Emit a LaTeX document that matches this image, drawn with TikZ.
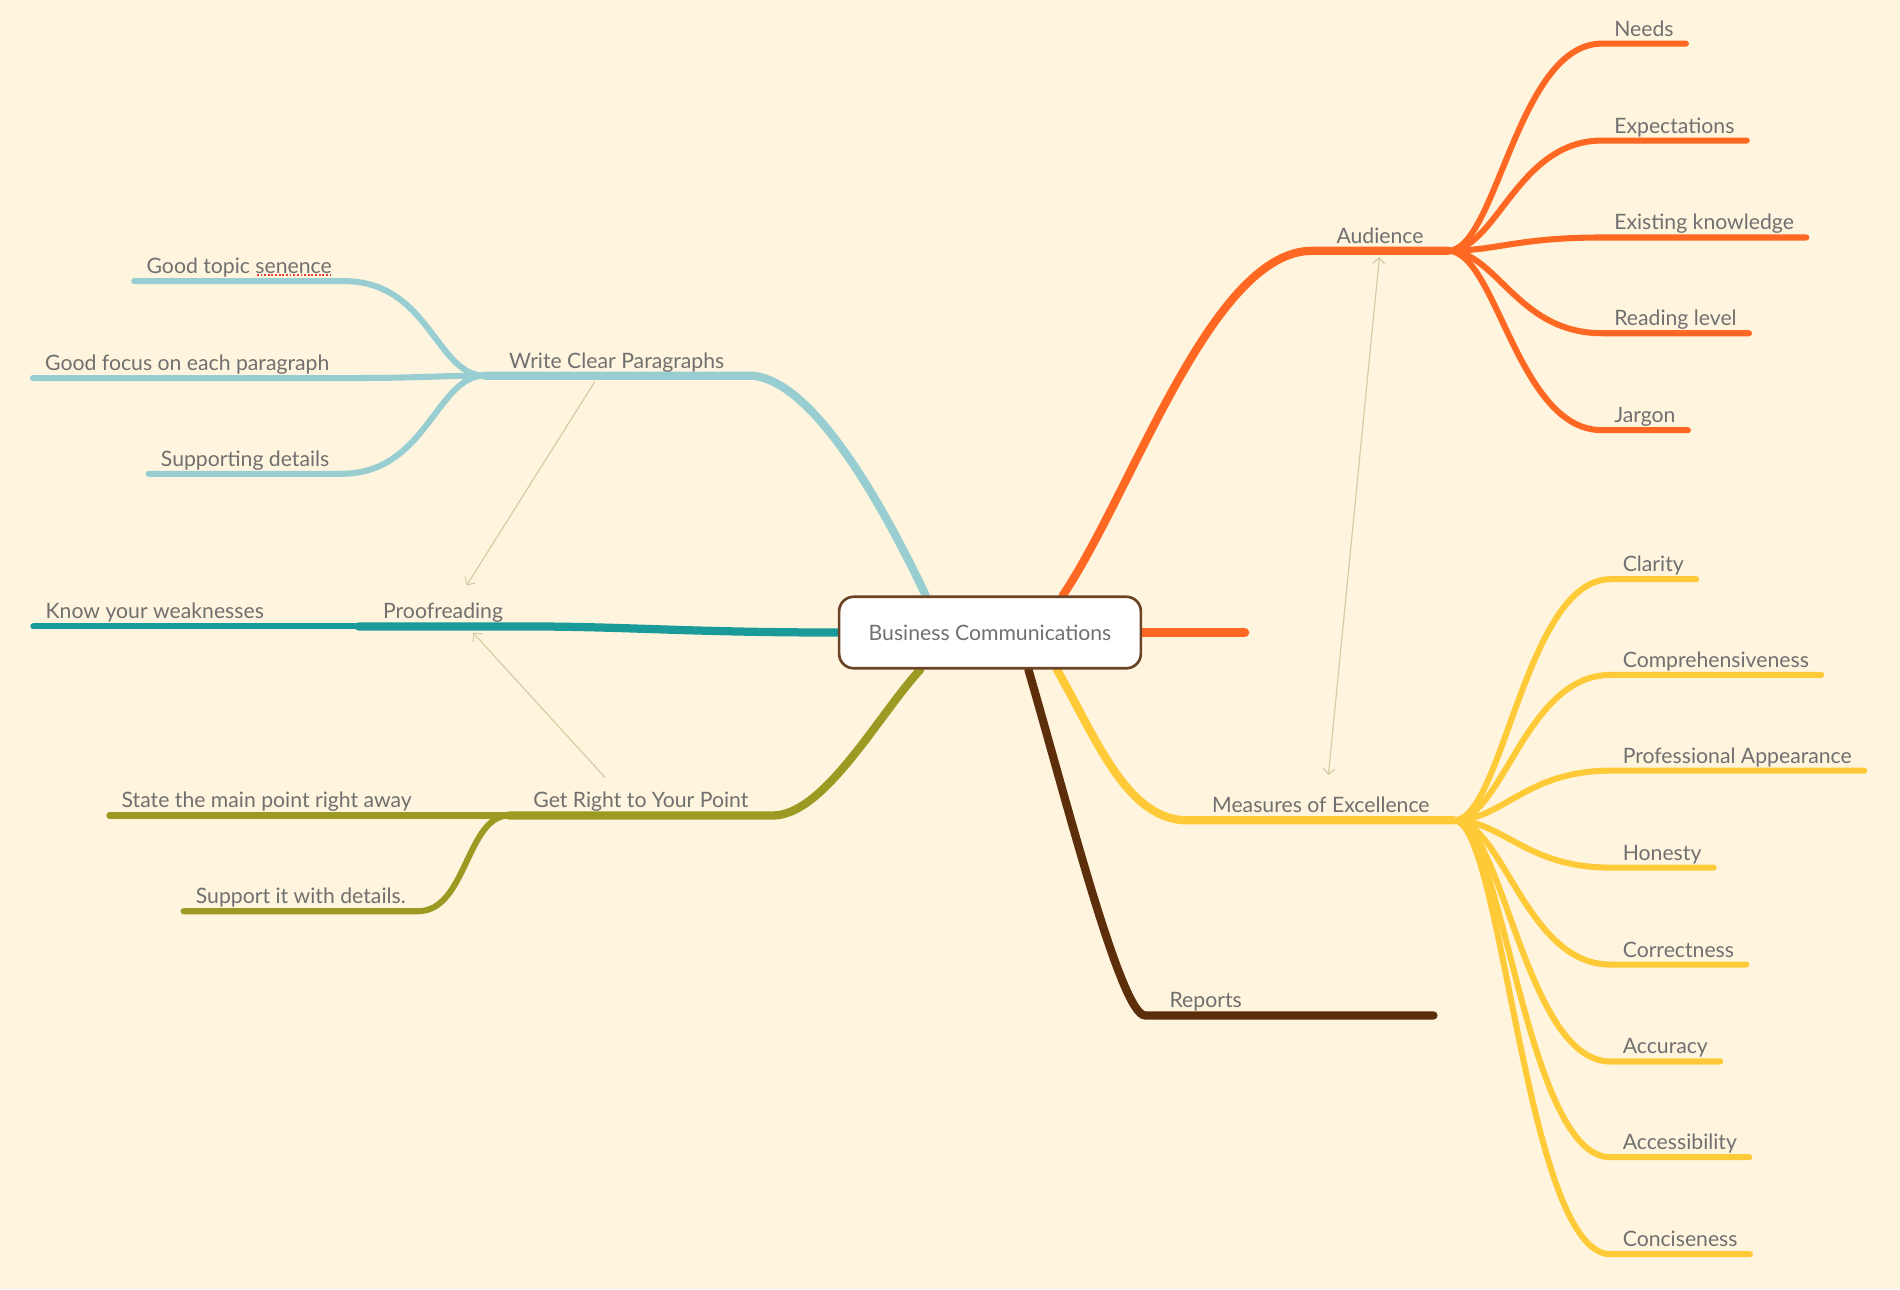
\documentclass[tikz,border=0pt]{standalone}
\usepackage{fontspec}
\setmainfont{Lato}
\usetikzlibrary{backgrounds,arrows.meta}
\definecolor{paper}{RGB}{255,245,222}
\definecolor{inkgray}{RGB}{112,112,112}
\definecolor{boxbrown}{RGB}{107,68,38}
\definecolor{orangeb}{RGB}{255,104,34}
\definecolor{yellowb}{RGB}{255,202,56}
\definecolor{brownb}{RGB}{92,46,10}
\definecolor{tealb}{RGB}{26,154,152}
\definecolor{blueb}{RGB}{152,205,209}
\definecolor{oliveb}{RGB}{156,154,34}
\definecolor{linkcol}{RGB}{214,205,165}
\definecolor{spellred}{RGB}{230,60,60}
\tikzset{>={Straight Barb[length=5pt,width=10pt]}}
\tikzset{
  mainlabel/.style = {inner xsep=20pt, inner ysep=6pt, text depth=0pt,
    text=inkgray, font=\fontsize{17.5}{21}\selectfont},
  leaflabel/.style = {mainlabel, inner xsep=10pt},
  centre/.style = {draw=boxbrown, line width=2.2pt, fill=white,
    rounded corners=12pt, minimum width=249pt, minimum height=59pt,
    text=inkgray, font=\fontsize{17.5}{21}\selectfont},
  branch/.style = {line width=6.8pt, line cap=round},
  twig/.style = {line width=5pt, line cap=round},
  link/.style = {draw=linkcol, line width=1pt}
}

\begin{document}
\begin{tikzpicture}[x=1pt,y=-1pt]
  \useasboundingbox (0,0) rectangle (1568,1064);
  \node[centre] (bc) at (817,522) {Business Communications};
  % audience
  \node[mainlabel,anchor=south east] (aud) at (1195,207) {Audience};
  \node[leaflabel,anchor=south west] (needs) at (1322,36) {Needs};
  \node[leaflabel,anchor=south west] (expect) at (1322,116) {Expectations};
  \node[leaflabel,anchor=south west] (known) at (1322,196) {Existing knowledge};
  \node[leaflabel,anchor=south west] (level) at (1322,275) {Reading level};
  \node[leaflabel,anchor=south west] (jargon) at (1322,355) {Jargon};
  \coordinate (stub) at (1027,522);
  % measures of excellence
  \node[mainlabel,anchor=south east] (excel) at (1200,677) {Measures of Excellence};
  \node[leaflabel,anchor=south west] (clarity) at (1329,478) {Clarity};
  \node[leaflabel,anchor=south west] (compre) at (1329,557) {Comprehensiveness};
  \node[leaflabel,anchor=south west] (appear) at (1329,636) {Professional Appearance};
  \node[leaflabel,anchor=south west] (honest) at (1329,716) {Honesty};
  \node[leaflabel,anchor=south west] (correct) at (1329,796) {Correctness};
  \node[leaflabel,anchor=south west] (accur) at (1329,876) {Accuracy};
  \node[leaflabel,anchor=south west] (access) at (1329,955) {Accessibility};
  \node[leaflabel,anchor=south west] (concise) at (1329,1035) {Conciseness};
  % reports
  \node[mainlabel,anchor=south west] (reports) at (945,838) {Reports};
  \coordinate (reportsend) at (1183,838);
  % write clear paragraphs
  \node[mainlabel,anchor=south west] (paras) at (400,310) {Write Clear Paragraphs};
  \node[leaflabel,anchor=south east] (topicsent) at (284,232) {Good topic senence};
  \node[leaflabel,anchor=south east] (focus) at (282,312) {Good focus on each paragraph};
  \node[leaflabel,anchor=south east] (support) at (282,391) {Supporting details};
  % proofreading
  \node[mainlabel,anchor=south west] (proof) at (296,517) {Proofreading};
  \node[leaflabel,anchor=south east] (weak) at (228,517) {Know your weaknesses};
  % get right to your point
  \node[mainlabel,anchor=south west] (point) at (420,673) {Get Right to Your Point};
  \node[leaflabel,anchor=south east] (state) at (350,673) {State the main point right away};
  \node[leaflabel,anchor=south east] (details) at (345,752) {Support it with details.};

  \begin{scope}[on background layer]
    \fill[paper] (0,0) rectangle (1568,1064);
    \draw[branch,orangeb] (bc.27) .. controls (935,405) and (1000,207) .. (aud.south west) -- (aud.south east);
    \draw[branch,orangeb,line width=8pt] (bc.east) -- (stub);
    \draw[twig,orangeb] (aud.south east) .. controls +(40,0) and +(-70,0) .. (needs.south west) -- (needs.south east);
    \draw[twig,orangeb] (aud.south east) .. controls +(40,0) and +(-70,0) .. (expect.south west) -- (expect.south east);
    \draw[twig,orangeb] (aud.south east) .. controls +(40,0) and +(-70,0) .. (known.south west) -- (known.south east);
    \draw[twig,orangeb] (aud.south east) .. controls +(40,0) and +(-70,0) .. (level.south west) -- (level.south east);
    \draw[twig,orangeb] (aud.south east) .. controls +(40,0) and +(-70,0) .. (jargon.south west) -- (jargon.south east);

    \draw[branch,yellowb] (bc.-29) .. controls (905,610) and (930,677) .. (excel.south west) -- (excel.south east);
    \draw[twig,yellowb] (excel.south east) .. controls +(40,0) and +(-70,0) .. (clarity.south west) -- (clarity.south east);
    \draw[twig,yellowb] (excel.south east) .. controls +(40,0) and +(-70,0) .. (compre.south west) -- (compre.south east);
    \draw[twig,yellowb] (excel.south east) .. controls +(40,0) and +(-70,0) .. (appear.south west) -- (appear.south east);
    \draw[twig,yellowb] (excel.south east) .. controls +(40,0) and +(-70,0) .. (honest.south west) -- (honest.south east);
    \draw[twig,yellowb] (excel.south east) .. controls +(40,0) and +(-70,0) .. (correct.south west) -- (correct.south east);
    \draw[twig,yellowb] (excel.south east) .. controls +(40,0) and +(-70,0) .. (accur.south west) -- (accur.south east);
    \draw[twig,yellowb] (excel.south east) .. controls +(40,0) and +(-70,0) .. (access.south west) -- (access.south east);
    \draw[twig,yellowb] (excel.south east) .. controls +(40,0) and +(-70,0) .. (concise.south west) -- (concise.south east);

    \draw[branch,brownb] (bc.-44) .. controls (880,660) and (925,838) .. (reports.south west) -- (reportsend);

    \draw[branch,blueb] (bc.150) .. controls (730,420) and (670,310) .. (paras.south east) -- (paras.south west);
    \draw[twig,blueb] (paras.south west) .. controls +(-40,0) and +(70,0) .. (topicsent.south east) -- (topicsent.south west);
    \draw[twig,blueb] (paras.south west) .. controls +(-40,0) and +(70,0) .. (focus.south east) -- (focus.south west);
    \draw[twig,blueb] (paras.south west) .. controls +(-40,0) and +(70,0) .. (support.south east) -- (support.south west);

    \draw[branch,tealb] (bc.west) .. controls +(-120,0) and +(80,0) .. (proof.south east) -- (proof.south west);
    \draw[twig,tealb] (proof.south west) -- (weak.south east) -- (weak.south west);

    \draw[branch,oliveb] (bc.-152) .. controls (725,590) and (680,673) .. (point.south east) -- (point.south west);
    \draw[twig,oliveb] (point.south west) -- (state.south east) -- (state.south west);
    \draw[twig,oliveb] (point.south west) .. controls +(-35,0) and +(40,0) .. (details.south east) -- (details.south west);
  \end{scope}

  \draw[spellred,line width=1.6pt,dash pattern=on 1.5pt off 1.5pt] ([xshift=-72pt,yshift=5pt]topicsent.south east) -- ([xshift=-10pt,yshift=5pt]topicsent.south east);
  \draw[link,<->,shorten <=5pt,shorten >=12pt] (aud.south) -- ([xshift=5pt]excel.north);
  \draw[link,->,shorten <=6pt,shorten >=10pt] ([xshift=-15pt]paras.south) -- ([xshift=14pt]proof.north);
  \draw[link,->,shorten <=8pt,shorten >=7pt] ([xshift=-24pt]point.north) -- ([xshift=20pt]proof.south);
\end{tikzpicture}
\end{document}
